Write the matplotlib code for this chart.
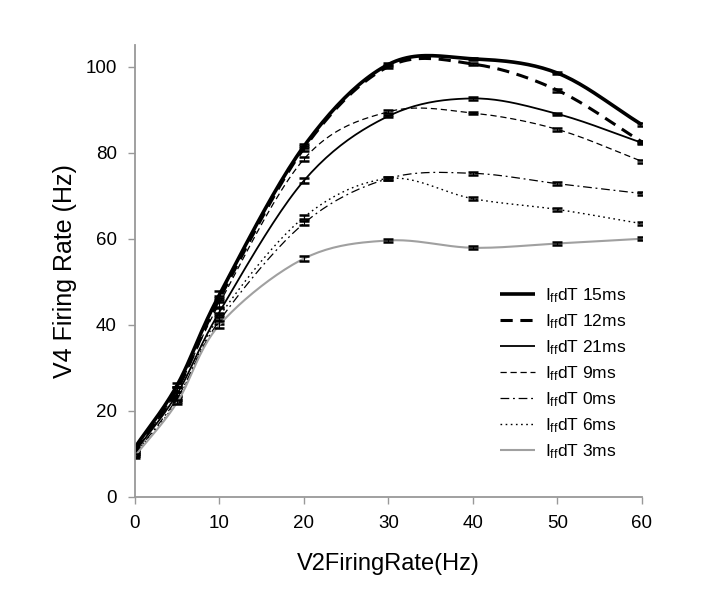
import numpy as np
import matplotlib
matplotlib.use("Agg")
import matplotlib.pyplot as plt

plt.rcParams['font.family'] = ['Liberation Sans', 'DejaVu Sans']
plt.rcParams['mathtext.default'] = 'regular'

v2_rate = [0, 5, 10, 20, 30, 40, 50, 60]

labels = ["15ms", "12ms", "21ms", "9ms", "0ms", "6ms", "3ms"]
v4_15 = [11.5, 26.0, 47.0, 81.5, 100.5, 101.8, 98.5, 86.5]
v4_12 = [11.0, 25.0, 46.0, 81.0, 100.0, 100.6, 94.5, 82.5]
v4_21 = [10.5, 24.0, 43.0, 73.5, 88.5, 92.6, 89.0, 82.3]
v4_9 = [10.5, 25.0, 45.0, 78.5, 89.5, 89.2, 85.4, 78.0]
v4_0 = [10.0, 23.0, 41.0, 63.6, 74.0, 75.2, 72.8, 70.5]
v4_6 = [10.0, 22.5, 42.0, 65.0, 74.0, 69.3, 66.8, 63.5]
v4_3 = [9.5, 22.0, 40.0, 55.4, 59.6, 57.9, 58.9, 60.0]
err = [0.4, 0.5, 0.8, 0.5, 0.3, 0.3, 0.3, 0.3]

series = [v4_15, v4_12, v4_21, v4_9, v4_0, v4_6, v4_3]
styles = [
    dict(color='black', lw=2.6, ls='-'),
    dict(color='black', lw=2.2, ls=(0, (4, 2.5))),
    dict(color='black', lw=1.3, ls='-'),
    dict(color='black', lw=0.9, ls=(0, (5, 3))),
    dict(color='black', lw=0.9, ls=(0, (7, 3, 1.5, 3))),
    dict(color='black', lw=1.0, ls=(0, (1.2, 2.5))),
    dict(color='#a0a0a0', lw=1.5, ls='-'),
]


def smooth(xs, ys, n=24):
    # catmull-rom style curve like excel's smoothed line
    xs = np.asarray(xs, float)
    ys = np.asarray(ys, float)
    px = np.concatenate([[2 * xs[0] - xs[1]], xs, [2 * xs[-1] - xs[-2]]])
    py = np.concatenate([[2 * ys[0] - ys[1]], ys, [2 * ys[-1] - ys[-2]]])
    outx, outy = [], []
    t = np.linspace(0, 1, n)
    for i in range(1, len(px) - 2):
        p0, p1, p2, p3 = px[i - 1], px[i], px[i + 1], px[i + 2]
        q0, q1, q2, q3 = py[i - 1], py[i], py[i + 1], py[i + 2]
        b1x, b1y = p1 + (p2 - p0) / 6, q1 + (q2 - q0) / 6
        b2x, b2y = p2 - (p3 - p1) / 6, q2 - (q3 - q1) / 6
        bx = (1 - t) ** 3 * p1 + 3 * (1 - t) ** 2 * t * b1x + 3 * (1 - t) * t ** 2 * b2x + t ** 3 * p2
        by = (1 - t) ** 3 * q1 + 3 * (1 - t) ** 2 * t * b1y + 3 * (1 - t) * t ** 2 * b2y + t ** 3 * q2
        outx.extend(bx)
        outy.extend(by)
    return outx, outy


fig = plt.figure(figsize=(7.16, 6.14), dpi=100)
ax = fig.add_axes([0.1885, 0.1906, 0.708, 0.736])

for vals, lab, st in zip(series, labels, styles):
    sx, sy = smooth(v2_rate, vals)
    ax.plot(sx, sy, label="I$_{ff}$dT " + lab, solid_capstyle='butt', **st)
    ax.errorbar(v2_rate, vals, yerr=err, fmt='none', ecolor='black',
                elinewidth=0.8, capsize=3.5, capthick=1.8)

ax.set_xlim(0, 60)
ax.set_ylim(0, 105)
ax.set_xticks(range(0, 61, 10))
ax.set_yticks(range(0, 101, 20))
for s in ['top', 'right']:
    ax.spines[s].set_visible(False)
for s in ['left', 'bottom']:
    ax.spines[s].set_color('#999999')
    ax.spines[s].set_linewidth(1.3)
ax.tick_params(direction='out', length=5, width=1, color='#999999',
               labelsize=13.5, pad=8)
ax.set_xlabel("V2FiringRate(Hz)", fontsize=17, labelpad=15)
ax.set_ylabel("V4 Firing Rate (Hz)", fontsize=18, labelpad=6)

ax.legend(loc='lower right', bbox_to_anchor=(1.0, 0.045), frameon=False,
          fontsize=12.5, handlelength=2.0, labelspacing=0.42, handletextpad=0.6)

fig.savefig("out.png", dpi=100)
